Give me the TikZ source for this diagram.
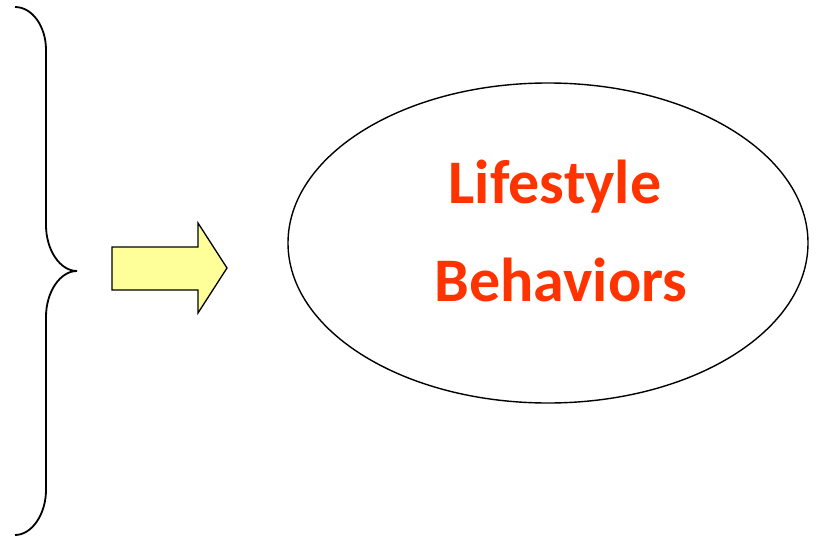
\documentclass[tikz,border=0pt]{standalone}
\usepackage{fontspec}
\setmainfont{Carlito}
\usetikzlibrary{shapes.geometric}
\definecolor{lsred}{HTML}{FF3300}
\definecolor{lsyellow}{HTML}{FFFF99}
\tikzset{
  bracestyle/.style={draw=black, line width=1.8pt},
  arrowshape/.style={draw=black, line width=1.3pt, fill=lsyellow, line join=miter},
  ovalstyle/.style={draw=black, line width=1.4pt, ellipse, minimum width=520pt, minimum height=320pt, inner sep=0pt},
  labelstyle/.style={text=lsred, font=\fontsize{62}{99}\selectfont\bfseries, align=center, inner sep=0pt}
}
\begin{document}
\begin{tikzpicture}[x=1pt,y=-1pt]
\useasboundingbox (0,0) rectangle (817,538);
% brace
\draw[bracestyle] (15,7) .. controls (32,7) and (46,26) .. (46,50) -- (46,225)
  .. controls (46,250) and (60,271) .. (77,271)
  .. controls (60,271) and (46,292) .. (46,317) -- (46,490)
  .. controls (46,514) and (32,535) .. (15,535);
% block arrow
\draw[arrowshape] (112,247) -- (198,247) -- (198,223) -- (227,268) -- (198,313) -- (198,290) -- (112,290) -- cycle;
% ellipse
\node[ovalstyle] (oval) at (548,243) {};
\node[labelstyle, anchor=base] (l1) at (555,203) {Lifestyle};
\node[labelstyle, anchor=base] (l2) at (561,301) {Behaviors};
\end{tikzpicture}
\end{document}
